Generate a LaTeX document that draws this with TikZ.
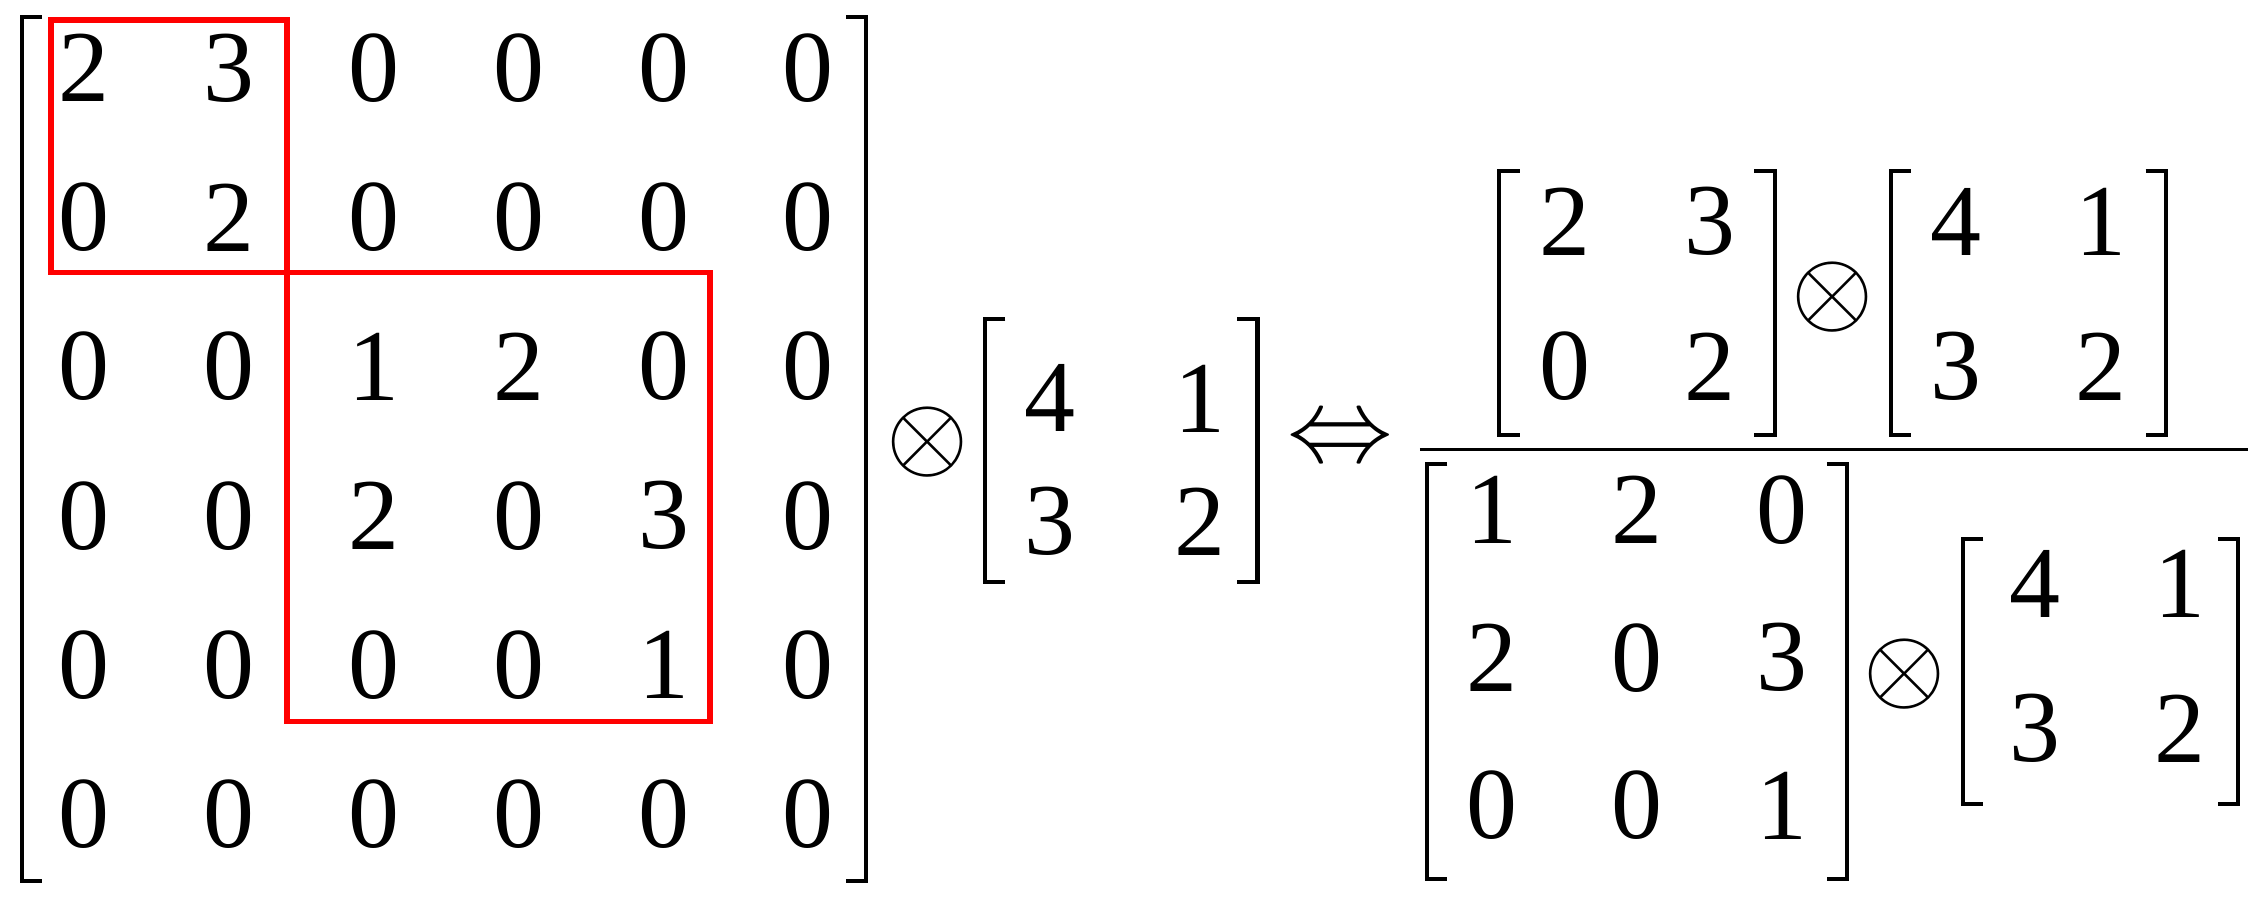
\documentclass[tikz,border=0pt]{standalone}
\usepackage{fontspec}
\setmainfont{Liberation Serif}
\usetikzlibrary{positioning}

% bracket pair: left x, right x, top y, bottom y
\newcommand\brpair[4]{%
  \draw[brline] (#1+14,#3) -- (#1,#3) -- (#1,#4) -- (#1+14,#4);
  \draw[brline] (#2-14,#3) -- (#2,#3) -- (#2,#4) -- (#2-14,#4);}

\begin{document}
\begin{tikzpicture}[
  x=0.01cm,y=-0.01cm,
  brline/.style={line width=0.8pt},
  entry/.style={font=\fontsize{20}{20}\selectfont,inner sep=0pt},
  redbox/.style={draw=red,line width=1.1pt},
  op/.style={font=\fontsize{22}{22}\selectfont,inner sep=0pt}
  ]
  \useasboundingbox (0,0) rectangle (1560,621);

  % big matrix
  \brpair{15}{598}{12}{608}
  \foreach \row [count=\r] in {{2,3,0,0,0,0},{0,2,0,0,0,0},{0,0,1,2,0,0},
                                {0,0,2,0,3,0},{0,0,0,0,1,0},{0,0,0,0,0,0}}
    \foreach \v [count=\c] in \row
      \node[entry] (big-\r-\c) at (-42+\c*100,-56+\r*103) {\v};
  \draw[redbox] (35,14) rectangle (198,188);
  \draw[redbox] (198,188) rectangle (490,498);

  \node[op] (ot1) at (640,305) {$\otimes$};

  % right factor
  \brpair{680}{868}{220}{402}
  \foreach \row [count=\r] in {{4,1},{3,2}}
    \foreach \v [count=\c] in \row
      \node[entry] (k-\r-\c) at (622+\c*103,190+\r*85) {\v};

  \node[op] (iff) at (925,305) {$\Leftrightarrow$};

  % fraction
  \draw[line width=0.6pt] (980,310) -- (1552,310);

  % numerator
  \brpair{1035}{1225}{118}{300}
  \foreach \row [count=\r] in {{2,3},{0,2}}
    \foreach \v [count=\c] in \row
      \node[entry] (a-\r-\c) at (980+\c*100,53+\r*100) {\v};
  \node[op] (ot2) at (1265,205) {$\otimes$};
  \brpair{1305}{1495}{118}{300}
  \foreach \row [count=\r] in {{4,1},{3,2}}
    \foreach \v [count=\c] in \row
      \node[entry] (b-\r-\c) at (1250+\c*100,53+\r*100) {\v};

  % denominator
  \brpair{985}{1275}{320}{607}
  \foreach \row [count=\r] in {{1,2,0},{2,0,3},{0,0,1}}
    \foreach \v [count=\c] in \row
      \node[entry] (d-\r-\c) at (930+\c*100,250+\r*102) {\v};
  \node[op] (ot3) at (1315,465) {$\otimes$};
  \brpair{1355}{1545}{372}{555}
  \foreach \row [count=\r] in {{4,1},{3,2}}
    \foreach \v [count=\c] in \row
      \node[entry] (e-\r-\c) at (1305+\c*100,303+\r*100) {\v};
\end{tikzpicture}
\end{document}
